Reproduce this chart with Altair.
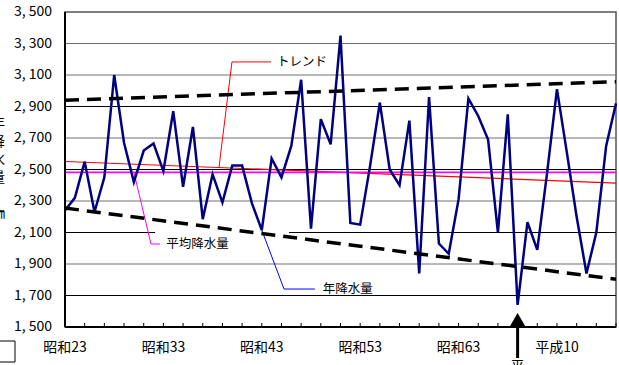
import altair as alt
import pandas as pd

# ---- data ----
years = list(range(1948, 2005))
rain = [2240, 2320, 2550, 2230, 2450, 3100, 2670, 2420, 2620, 2665,
        2490, 2870, 2390, 2770, 2185, 2470, 2290, 2525, 2525, 2285,
        2115, 2570, 2450, 2650, 3070, 2125, 2820, 2660, 3350, 2160,
        2150, 2520, 2925, 2500, 2400, 2810, 1840, 2960, 2030, 1965,
        2310, 2950, 2840, 2690, 2100, 2850, 1640, 2165, 1990, 2480,
        3010, 2610, 2200, 1840, 2100, 2650, 2920]

label_years = [1948, 1958, 1968, 1978, 1988, 1998]
label_names = ["昭和23", "昭和33", "昭和43", "昭和53", "昭和63", "平成10"]
y_ticks = [1500, 1700, 1900, 2100, 2300, 2500, 2700, 2900, 3100, 3300, 3500]
y_labels = ["1, 500", "1, 700", "1, 900", "2, 100", "2, 300", "2, 500",
            "2, 700", "2, 900", "3, 100", "3, 300", "3, 500"]

grid_gray = [3300, 3100, 2700, 2300, 1900]
grid_black = [2900, 2500, 1700]
grid_2100_from = [1948, 1970.77]
grid_2100_to = [1957.15, 2004]

env_years = [1948, 2004]
upper_env = [2940, 3057]
lower_env = [2255, 1803]

drought_year = 1994

red_leader_x = [1963.65, 1964.97, 1968.94]
red_leader_y = [2514, 3183, 3183]
pink_leader_x = [1955.0, 1956.74, 1957.65]
pink_leader_y = [2482, 2027, 2027]
blue_leader_x = [1968, 1970.26, 1973.4]
blue_leader_y = [2115, 1741, 1741]

labels_txt = ["トレンド", "平均降水量", "年降水量"]
labels_x = [1969.55, 1958.3, 1974.2]
labels_y = [3183, 2027, 1741]

title_chars = ["年", "降", "水", "量", "㎜"]
title_py = [112, 130, 148, 166, 202]

W, H = 551, 315
FONT = "Noto Sans CJK JP"

df = pd.DataFrame({"year": years, "rain": rain})
xs = alt.Scale(domain=[1948, 2004], nice=False, zero=False)
ys = alt.Scale(domain=[1500, 3500], nice=False, zero=False)

X = lambda f: alt.X(f, scale=xs, axis=None)
Y = lambda f: alt.Y(f, scale=ys, axis=None)

# gridlines
g_gray = alt.Chart(pd.DataFrame({"v": grid_gray})).mark_rule(color="#707070", strokeWidth=1).encode(
    y=Y("v:Q"))
g_black = alt.Chart(pd.DataFrame({"v": grid_black})).mark_rule(color="#000000", strokeWidth=1).encode(
    y=Y("v:Q"))
g_2100 = alt.Chart(pd.DataFrame({"a": grid_2100_from, "b": grid_2100_to, "v": [2100, 2100]})).mark_rule(
    color="#000000", strokeWidth=1).encode(x=X("a:Q"), x2="b:Q", y=Y("v:Q"))

ticks = alt.Chart(pd.DataFrame({"t": list(range(1948, 2005, 2))})).mark_rule(color="black", strokeWidth=1).encode(
    x=X("t:Q"), y=alt.value(H), y2=alt.value(H - 4))

axis_lines = alt.Chart(pd.DataFrame({"a": [0]})).mark_rule(color="black", strokeWidth=2).encode(
    x=alt.value(0), x2=alt.value(W), y=alt.value(H))
axis_left = alt.Chart(pd.DataFrame({"a": [0]})).mark_rule(color="black", strokeWidth=2).encode(
    x=alt.value(0), y=alt.value(0), y2=alt.value(H))

xlab = alt.Chart(pd.DataFrame({"y": label_years, "t": label_names})).mark_text(
    fontSize=14, font=FONT, color="black", baseline="middle", align="center").encode(
    x=X("y:Q"), y=alt.value(H + 21), text="t:N")
ylab = alt.Chart(pd.DataFrame({"v": y_ticks, "t": y_labels})).mark_text(
    fontSize=14, font=FONT, color="black", baseline="middle", align="right").encode(
    x=alt.value(-13), y=Y("v:Q"), text="t:N")

trend = alt.Chart(df).transform_regression("year", "rain", extent=[1948, 2004]).mark_line(
    color="#FF0000", strokeWidth=1.2).encode(x=X("year:Q"), y=Y("rain:Q"))

mean = alt.Chart(df).mark_rule(color="#FF00FF", strokeWidth=1.8).encode(y=Y("mean(rain):Q"))

main = alt.Chart(df).mark_line(color="#000080", strokeWidth=2.5).encode(x=X("year:Q"), y=Y("rain:Q"))

env_df = pd.DataFrame({"year": env_years * 2, "v": upper_env + lower_env,
                       "g": ["u", "u", "l", "l"]})
env = alt.Chart(env_df).mark_line(color="black", strokeWidth=3.5, strokeDash=[14, 8]).encode(
    x=X("year:Q"), y=Y("v:Q"), detail="g:N")

def leader(xl, yl, color):
    d = pd.DataFrame({"x": xl, "y": yl, "o": list(range(len(xl)))})
    return alt.Chart(d).mark_line(color=color, strokeWidth=1).encode(
        x=X("x:Q"), y=Y("y:Q"), order="o:Q")

l_red = leader(red_leader_x, red_leader_y, "#FF0000")
l_pink = leader(pink_leader_x, pink_leader_y, "#FF00FF")
l_blue = leader(blue_leader_x, blue_leader_y, "#0000FF")

txt = alt.Chart(pd.DataFrame({"t": labels_txt, "x": labels_x, "y": labels_y})).mark_text(
    align="left", baseline="middle", fontSize=12.5, font=FONT, color="black").encode(
    x=X("x:Q"), y=Y("y:Q"), text="t:N")

arrow_df = pd.DataFrame({"year": [drought_year]})
tri = alt.Chart(arrow_df).mark_point(shape="triangle-up", filled=True, size=300, color="black",
                                     opacity=1).encode(x=X("year:Q"), y=alt.value(H - 6.5))
shaft = alt.Chart(arrow_df).mark_rule(color="black", strokeWidth=3).encode(
    x=X("year:Q"), y=alt.value(H + 1), y2=alt.value(H + 31))
cut = alt.Chart(arrow_df).mark_text(text="平", fontSize=14, font=FONT, baseline="top",
                                    color="black").encode(x=X("year:Q"), y=alt.value(H + 33))

ytitle = alt.Chart(pd.DataFrame({"c": title_chars, "py": title_py})).mark_text(
    fontSize=14, font=FONT, color="black", baseline="middle").encode(
    x=alt.value(-67), y=alt.Y("py:Q", scale=None, axis=None), text="c:N")

box = alt.Chart(pd.DataFrame({"a": [0]})).mark_rect(fill="white", stroke="black", strokeWidth=1).encode(
    x=alt.value(-75), x2=alt.value(-50), y=alt.value(329), y2=alt.value(350))

chart = alt.layer(
    g_gray, g_black, g_2100, ticks, trend, mean, l_red, l_pink, l_blue, main, env, txt,
    axis_lines, axis_left, xlab, ylab, tri, shaft, cut, ytitle, box
).properties(
    width=W, height=H,
    autosize=alt.AutoSizeParams(type="none"),
    padding={"left": 65, "top": 12, "right": 3, "bottom": 38},
    background="white",
).configure_view(stroke="#555555", strokeWidth=1.5)

chart.save("out.html", embed_options={"renderer": "svg", "actions": False})
